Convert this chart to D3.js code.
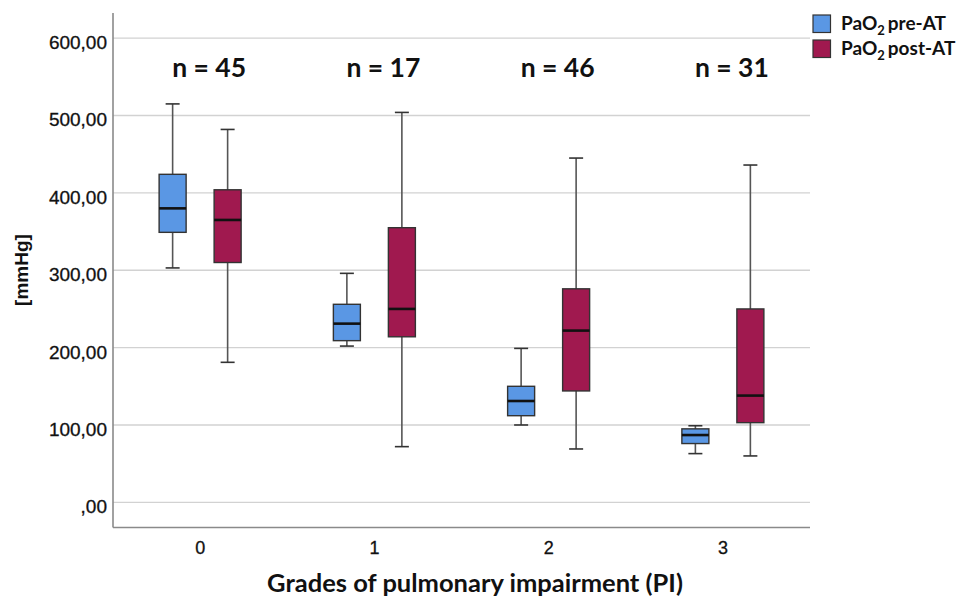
<!DOCTYPE html>
<html>
<head>
<meta charset="utf-8">
<script src="https://cdn.jsdelivr.net/npm/d3@7"></script>
<style>
  body { margin: 0; background: #fff; }
  svg { display: block; }
</style>
</head>
<body>
<script>
// categories and group sizes
const grades = ["0", "1", "2", "3"];
const groupN = [45, 17, 46, 31];
const yTicks = [0, 100, 200, 300, 400, 500, 600];

// five-number summaries per grade: [lower whisker, Q1, median, Q3, upper whisker]
const preAT = [
  [303, 349, 380, 424, 515],
  [202, 209, 231, 256, 296],
  [100, 112, 131, 150, 199],
  [63, 76, 87, 95, 99]
];
const postAT = [
  [181, 310, 365, 404, 482],
  [72, 214, 250, 355, 504],
  [69, 144, 222, 276, 445],
  [60, 103, 138, 250, 436]
];

const seriesNames = ["pre", "post"];
const seriesColors = { pre: "#5a97e4", post: "#a0194f" };

const width = 963;
const height = 599;

const svg = d3.select("body")
  .append("svg")
  .attr("width", width)
  .attr("height", height);

const x = d3.scaleBand().domain(grades).range([113, 810]);
const sub = d3.scalePoint().domain(seriesNames)
  .range([x.bandwidth() / 2 - 27.5, x.bandwidth() / 2 + 27.5]);
const y = d3.scaleLinear().domain([-32.5, 632.5]).range([527.5, 13]);

const locale = d3.formatLocale({ decimal: ",", thousands: ".", grouping: [3], currency: ["", "€"] });
const fmt = locale.format(".2f");

// gridlines
svg.append("g")
  .selectAll("line")
  .data(yTicks)
  .enter()
  .append("line")
  .attr("x1", 113)
  .attr("x2", 810)
  .attr("y1", d => y(d))
  .attr("y2", d => y(d))
  .style("stroke", "#d2d2d2")
  .style("stroke-width", 1.4);

// y axis
const yAxis = svg.append("g")
  .attr("transform", "translate(113,0)")
  .call(d3.axisLeft(y).tickValues(yTicks).tickSize(0).tickPadding(6)
    .tickFormat(d => d === 0 ? ",00" : fmt(d)));
yAxis.select(".domain").remove();
yAxis.selectAll("text")
  .attr("dy", "0.55em")
  .style("font-family", "'Liberation Sans', Arial, sans-serif")
  .style("font-size", "19px")
  .style("fill", "#111")
  .style("stroke", "#111")
  .style("stroke-width", 0.3);

// x axis
const xAxis = svg.append("g")
  .attr("transform", "translate(0,527.5)")
  .call(d3.axisBottom(x).tickSize(0).tickPadding(14));
xAxis.select(".domain").remove();
xAxis.selectAll("text")
  .style("font-family", "'Liberation Sans', Arial, sans-serif")
  .style("font-size", "18px")
  .style("fill", "#111")
  .style("stroke", "#111")
  .style("stroke-width", 0.3);

// axis lines
svg.append("line")
  .attr("x1", 113).attr("x2", 113)
  .attr("y1", y.range()[1]).attr("y2", y.range()[0])
  .style("stroke", "#8a8a8a").style("stroke-width", 1.6);
svg.append("line")
  .attr("x1", 113).attr("x2", 810)
  .attr("y1", y.range()[0]).attr("y2", y.range()[0])
  .style("stroke", "#8a8a8a").style("stroke-width", 1.6);

// boxes
const boxW = 27;
const capW = 14;
const boxData = [];
grades.forEach((g, i) => {
  boxData.push({ grade: g, series: "pre", s: preAT[i] });
  boxData.push({ grade: g, series: "post", s: postAT[i] });
});

const boxes = svg.selectAll(".box")
  .data(boxData)
  .enter()
  .append("g")
  .classed("box", true)
  .attr("transform", d => `translate(${x(d.grade) + sub(d.series)},0)`);

boxes.append("line")
  .attr("x1", 0).attr("x2", 0)
  .attr("y1", d => y(d.s[0])).attr("y2", d => y(d.s[4]))
  .style("stroke", "#555").style("stroke-width", 1.6);

boxes.selectAll(".cap")
  .data(d => [d.s[0], d.s[4]])
  .enter()
  .append("line")
  .classed("cap", true)
  .attr("x1", -capW / 2).attr("x2", capW / 2)
  .attr("y1", d => y(d)).attr("y2", d => y(d))
  .style("stroke", "#333").style("stroke-width", 1.6);

boxes.append("rect")
  .attr("x", -boxW / 2)
  .attr("width", boxW)
  .attr("y", d => y(d.s[3]))
  .attr("height", d => y(d.s[1]) - y(d.s[3]))
  .style("fill", d => seriesColors[d.series])
  .style("stroke", "#333")
  .style("stroke-width", 1.4);

boxes.append("line")
  .attr("x1", -boxW / 2).attr("x2", boxW / 2)
  .attr("y1", d => y(d.s[2])).attr("y2", d => y(d.s[2]))
  .style("stroke", "#111").style("stroke-width", 2.6);

// n labels
svg.selectAll(".nlabel")
  .data(grades)
  .enter()
  .append("text")
  .classed("nlabel", true)
  .attr("x", d => x(d) + x.bandwidth() / 2 + 9)
  .attr("y", 77)
  .attr("text-anchor", "middle")
  .style("font-family", "Lato, 'Open Sans', sans-serif")
  .style("font-weight", "bold")
  .style("font-size", "26.5px")
  .style("fill", "#111")
  .text((d, i) => `n = ${groupN[i]}`);

// axis titles
svg.append("text")
  .attr("transform", "translate(28,270) rotate(-90)")
  .attr("text-anchor", "middle")
  .style("font-family", "'Liberation Sans', Arial, sans-serif")
  .style("font-weight", "bold")
  .style("font-size", "19px")
  .style("fill", "#111")
  .text("[mmHg]");

svg.append("text")
  .attr("x", 475)
  .attr("y", 592)
  .attr("text-anchor", "middle")
  .style("font-family", "Lato, 'Open Sans', sans-serif")
  .style("font-weight", "bold")
  .style("font-size", "25.5px")
  .style("fill", "#111")
  .text("Grades of pulmonary impairment (PI)");

// legend
const legendLabels = { pre: "pre-AT", post: "post-AT" };
const legend = svg.selectAll(".legend")
  .data(seriesNames)
  .enter()
  .append("g")
  .classed("legend", true)
  .attr("transform", (d, i) => `translate(813,${15 + i * 25})`);

legend.append("rect")
  .attr("width", 17.5)
  .attr("height", 17.5)
  .style("fill", d => seriesColors[d])
  .style("stroke", "#333")
  .style("stroke-width", 1.2);

const lt = legend.append("text")
  .attr("x", 28)
  .attr("y", 15)
  .style("font-family", "Lato, 'Open Sans', sans-serif")
  .style("font-weight", "bold")
  .style("font-size", "19px")
  .style("fill", "#111");
lt.append("tspan").text("PaO");
lt.append("tspan").attr("dy", 5).style("font-size", "13px").text("2");
lt.append("tspan").attr("dy", -5).attr("dx", 3).text(d => legendLabels[d]);
</script>
</body>
</html>
